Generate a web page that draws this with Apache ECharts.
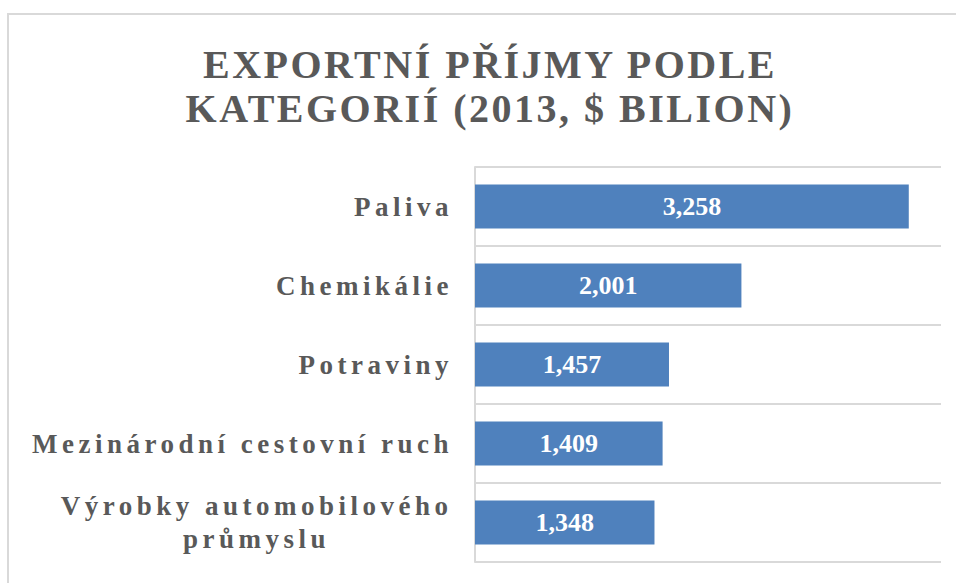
<!DOCTYPE html>
<html>
<head>
<meta charset="utf-8">
<script src="https://cdn.jsdelivr.net/npm/echarts@6/dist/echarts.min.js"></script>
<style>
  html, body { margin: 0; padding: 0; background: #fff; }
  #chart { width: 956px; height: 583px; }
  /* rozestup písmen jako v originále (Cambria s prostrkáním) */
  #chart text[style*="27px"] { letter-spacing: 4.5px; }
  #chart text[style*="40px"] { letter-spacing: 2.5px; }
</style>
</head>
<body>
<div id="chart"></div>
<script>
// kategorie a hodnoty (mld. USD, 2013)
var categories = ['Paliva', 'Chemikálie', 'Potraviny', 'Mezinárodní cestovní ruch', 'Výrobky automobilového\nprůmyslu'];
var values = [3258, 2001, 1457, 1409, 1348];
var titleText = 'EXPORTNÍ PŘÍJMY PODLE\nKATEGORIÍ (2013, $ BILION)';

var chart = echarts.init(document.getElementById('chart'), null, { renderer: 'svg' });

var labelFont = {
  color: '#595959',
  fontFamily: 'Liberation Serif',
  fontWeight: 'bold',
  fontSize: 27
};

var option = {
  backgroundColor: '#fff',
  animation: false,
  graphic: [
    {
      type: 'rect',
      shape: { x: 8, y: 14, width: 960, height: 580 },
      style: { fill: 'none', stroke: '#d9d9d9', lineWidth: 2 },
      silent: true
    }
  ],
  title: {
    text: titleText,
    left: 485,
    top: 37,
    textAlign: 'center',
    textStyle: {
      fontFamily: 'Liberation Serif',
      fontWeight: 'bold',
      fontSize: 40,
      lineHeight: 44,
      color: '#595959'
    }
  },
  grid: {
    left: 475,
    right: 15,
    top: 167,
    bottom: 21,
    containLabel: false
  },
  xAxis: {
    type: 'value',
    min: 0,
    max: 3500,
    show: false,
    splitLine: { show: false }
  },
  yAxis: {
    type: 'category',
    data: categories,
    inverse: true,
    axisTick: { show: false },
    axisLine: { show: true, lineStyle: { color: '#d9d9d9', width: 2 } },
    splitLine: { show: true, lineStyle: { color: '#d9d9d9', width: 2 } },
    axisLabel: Object.assign({
      margin: 22,
      formatter: function (v) {
        if (v.indexOf('\n') >= 0) {
          // víceřádkový popisek: řádky na střed, pravý okraj jako ostatní
          return v.split('\n').map(function (s) { return '{c|' + s + '}{p| }'; }).join('\n');
        }
        return v;
      },
      rich: {
        c: Object.assign({ align: 'center', lineHeight: 33 }, labelFont),
        p: Object.assign({ align: 'right', width: 50, lineHeight: 33 }, labelFont)
      }
    }, labelFont)
  },
  series: [
    {
      type: 'bar',
      data: values,
      barCategoryGap: '44%',
      itemStyle: { color: '#4f81bd' },
      label: {
        show: true,
        position: 'inside',
        color: '#fff',
        fontFamily: 'Liberation Serif',
        fontWeight: 'bold',
        fontSize: 26,
        formatter: function (p) {
          return p.value.toLocaleString('en-US');
        }
      }
    }
  ]
};

chart.setOption(option);
</script>
</body>
</html>
